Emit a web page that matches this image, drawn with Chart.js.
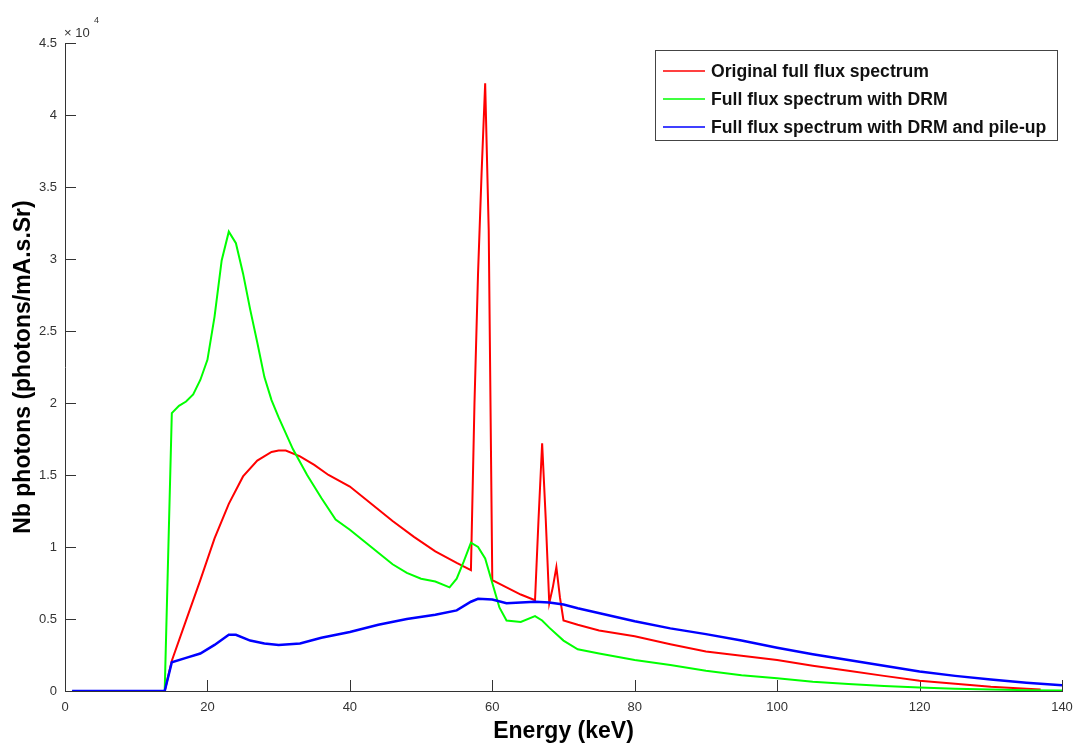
<!DOCTYPE html>
<html>
<head>
<meta charset="utf-8">
<script src="https://cdn.jsdelivr.net/npm/chart.js@4.4.1/dist/chart.umd.min.js"></script>
<style>
  body { margin: 0; background: #fff; }
  #wrap { width: 1076px; height: 746px; }
</style>
</head>
<body>
<div id="wrap"><canvas id="spectrumChart" width="1076" height="746"></canvas></div>
<script>
// values in units of 10^4 photons/mA.s.Sr
const seriesLabels = ['Original full flux spectrum', 'Full flux spectrum with DRM', 'Full flux spectrum with DRM and pile-up'];

const redEnergy = [1, 14, 15, 17, 19, 21, 23, 25, 27, 29, 30, 31, 33, 35, 37, 40, 43, 46, 49, 52, 55, 57, 57.5, 58, 58.5, 59, 59.5, 60, 62, 64, 66, 66.5, 67, 67.5, 68, 68.5, 69, 69.5, 70, 72, 75, 80, 85, 90, 95, 100, 105, 110, 115, 120, 125, 130, 135, 137];
const redValues = [0, 0, 0.21, 0.49, 0.77, 1.06, 1.30, 1.49, 1.60, 1.66, 1.67, 1.67, 1.63, 1.57, 1.50, 1.42, 1.30, 1.18, 1.07, 0.97, 0.89, 0.84, 2.0, 2.9, 3.6, 4.22, 3.2, 0.77, 0.72, 0.67, 0.63, 1.2, 1.72, 1.2, 0.61, 0.72, 0.86, 0.65, 0.49, 0.46, 0.42, 0.38, 0.325, 0.275, 0.245, 0.215, 0.175, 0.14, 0.105, 0.072, 0.05, 0.03, 0.016, 0.01];

const greenEnergy = [1, 14, 15, 16, 17, 18, 19, 20, 21, 22, 23, 24, 25, 26, 27, 28, 29, 30, 32, 34, 36, 38, 40, 42, 44, 46, 48, 50, 52, 54, 55, 56, 57, 58, 59, 60, 61, 62, 64, 66, 67, 68, 70, 72, 75, 80, 85, 90, 95, 100, 105, 110, 115, 120, 125, 130, 135, 140];
const greenValues = [0, 0, 1.93, 1.98, 2.01, 2.06, 2.16, 2.3, 2.6, 2.99, 3.19, 3.11, 2.9, 2.65, 2.42, 2.18, 2.02, 1.90, 1.68, 1.50, 1.34, 1.19, 1.12, 1.04, 0.96, 0.88, 0.82, 0.78, 0.76, 0.72, 0.78, 0.90, 1.03, 1.0, 0.92, 0.75, 0.58, 0.49, 0.48, 0.52, 0.49, 0.44, 0.35, 0.29, 0.26, 0.215, 0.18, 0.14, 0.11, 0.088, 0.065, 0.048, 0.035, 0.024, 0.016, 0.01, 0.006, 0.003];

const blueEnergy = [1, 14, 15, 17, 19, 21, 23, 24, 26, 28, 30, 33, 36, 40, 44, 48, 52, 55, 57, 58, 60, 62, 64, 66, 68, 70, 72, 76, 80, 85, 90, 95, 100, 105, 110, 115, 120, 125, 130, 135, 140];
const blueValues = [0, 0, 0.20, 0.23, 0.26, 0.32, 0.39, 0.39, 0.35, 0.33, 0.32, 0.33, 0.37, 0.41, 0.46, 0.50, 0.53, 0.56, 0.62, 0.64, 0.635, 0.61, 0.615, 0.62, 0.615, 0.60, 0.575, 0.53, 0.485, 0.435, 0.395, 0.35, 0.30, 0.255, 0.215, 0.175, 0.135, 0.105, 0.08, 0.058, 0.04];

const xTicks = [0, 20, 40, 60, 80, 100, 120, 140];
const yTicks = [0, 0.5, 1, 1.5, 2, 2.5, 3, 3.5, 4, 4.5];

function toPoints(xs, ys) {
  return xs.map((x, i) => ({ x: x, y: ys[i] }));
}

const axisColor = '#333';

// tick marks pointing into the plot, like matlab
const innerTicks = {
  id: 'innerTicks',
  beforeDatasetsDraw(chart) {
    const { ctx, chartArea, scales } = chart;
    ctx.save();
    ctx.strokeStyle = axisColor;
    ctx.lineWidth = 1;
    ctx.beginPath();
    xTicks.forEach(v => {
      const px = Math.round(scales.x.getPixelForValue(v)) + 0.5;
      ctx.moveTo(px, chartArea.bottom);
      ctx.lineTo(px, chartArea.bottom - 11);
    });
    yTicks.forEach(v => {
      const py = Math.round(scales.y.getPixelForValue(v)) + 0.5;
      ctx.moveTo(chartArea.left, py);
      ctx.lineTo(chartArea.left + 11, py);
    });
    ctx.stroke();
    // exponent label
    ctx.fillStyle = axisColor;
    ctx.font = '13px "Liberation Sans", Arial, sans-serif';
    ctx.textBaseline = 'alphabetic';
    ctx.fillText('\u00d7 10', chartArea.left - 1, chartArea.top - 6);
    ctx.font = '9px "Liberation Sans", Arial, sans-serif';
    ctx.fillText('4', chartArea.left + 29, chartArea.top - 20);
    ctx.restore();
  }
};

const legendBox = {
  id: 'legendBox',
  afterDraw(chart) {
    const { ctx, chartArea } = chart;
    const w = 402, h = 90;
    const x0 = chartArea.right - 407, y0 = chartArea.top + 7;
    ctx.save();
    ctx.fillStyle = '#fff';
    ctx.fillRect(x0, y0, w, h);
    ctx.strokeStyle = '#444';
    ctx.lineWidth = 1;
    ctx.strokeRect(x0 + 0.5, y0 + 0.5, w, h);
    ctx.font = 'bold 17.6px "Liberation Sans", Arial, sans-serif';
    ctx.textBaseline = 'middle';
    chart.data.datasets.forEach((ds, i) => {
      const y = y0 + 21 + i * 28;
      ctx.strokeStyle = ds.borderColor;
      ctx.lineWidth = 1.5;
      ctx.beginPath();
      ctx.moveTo(x0 + 8, y);
      ctx.lineTo(x0 + 50, y);
      ctx.stroke();
      ctx.fillStyle = '#111';
      ctx.fillText(ds.label, x0 + 56, y + 1);
    });
    ctx.restore();
  }
};

const ctx = document.getElementById('spectrumChart').getContext('2d');
const spectrumChart = new Chart(ctx, {
  type: 'line',
  data: {
    datasets: [
      {
        label: seriesLabels[0],
        data: toPoints(redEnergy, redValues),
        borderColor: '#ff0000',
        borderWidth: 2,
        order: 3
      },
      {
        label: seriesLabels[1],
        data: toPoints(greenEnergy, greenValues),
        borderColor: '#00ff00',
        borderWidth: 2,
        order: 2
      },
      {
        label: seriesLabels[2],
        data: toPoints(blueEnergy, blueValues),
        borderColor: '#0000ff',
        borderWidth: 2.5,
        order: 1
      }
    ]
  },
  options: {
    responsive: false,
    devicePixelRatio: 1,
    animation: false,
    layout: { padding: { top: 43, right: 14, left: 0, bottom: 0 } },
    elements: {
      point: { radius: 0 },
      line: { tension: 0, fill: false }
    },
    plugins: {
      legend: { display: false },
      tooltip: { enabled: false }
    },
    scales: {
      x: {
        type: 'linear',
        min: 0,
        max: 140,
        afterFit: scale => {
          scale.height = 55;
          scale.paddingLeft = 0;
          scale.paddingRight = 0;
        },
        afterBuildTicks: scale => { scale.ticks = xTicks.map(v => ({ value: v })); },
        grid: { display: false, drawTicks: false },
        border: { display: true, color: axisColor, width: 1 },
        ticks: {
          padding: 9,
          color: axisColor,
          font: { family: '"Liberation Sans", Arial, sans-serif', size: 13 },
          maxRotation: 0
        },
        title: {
          display: true,
          text: 'Energy (keV)',
          color: '#000',
          font: { family: '"Liberation Sans", Arial, sans-serif', size: 23, weight: 'bold' },
          padding: { top: 0, bottom: 1 }
        }
      },
      y: {
        type: 'linear',
        min: 0,
        max: 4.5,
        afterFit: scale => {
          scale.width = 65;
          scale.paddingTop = 0;
          scale.paddingBottom = 0;
        },
        afterBuildTicks: scale => { scale.ticks = yTicks.map(v => ({ value: v })); },
        grid: { display: false, drawTicks: false },
        border: { display: true, color: axisColor, width: 1 },
        ticks: {
          padding: 8,
          color: axisColor,
          font: { family: '"Liberation Sans", Arial, sans-serif', size: 13 },
          callback: v => String(v)
        },
        title: {
          display: true,
          text: 'Nb photons (photons/mA.s.Sr)',
          color: '#000',
          font: { family: '"Liberation Sans", Arial, sans-serif', size: 23, weight: 'bold' },
          padding: { top: 10, bottom: 0 }
        }
      }
    }
  },
  plugins: [innerTicks, legendBox]
});
</script>
</body>
</html>
